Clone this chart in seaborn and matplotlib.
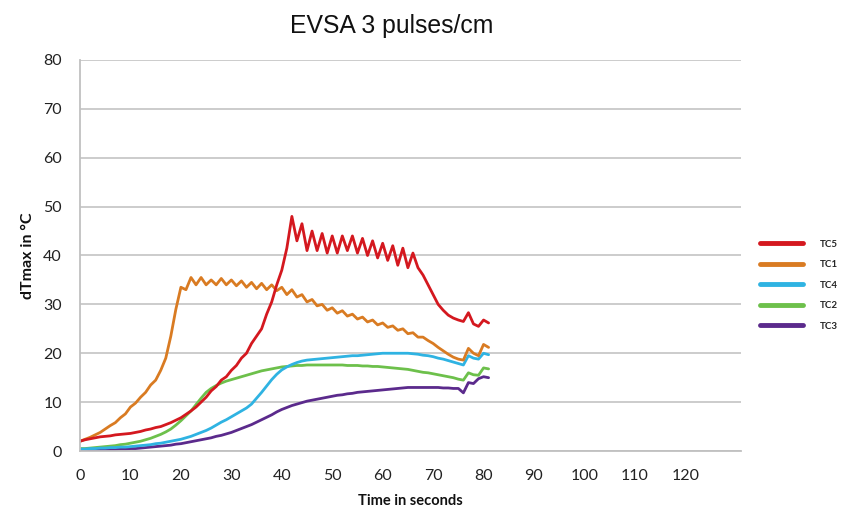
import numpy as np
import pandas as pd
import matplotlib
matplotlib.use("Agg")
import matplotlib.pyplot as plt
import seaborn as sns
from matplotlib.lines import Line2D

# ---- data (1 s sampling, t = 0 .. 81 s) ----
time_s = list(range(0, 82))

tc5 = [2.0, 2.3, 2.5, 2.7, 2.9, 3.0, 3.1, 3.3, 3.4, 3.5,
       3.6, 3.8, 4.0, 4.3, 4.5, 4.8, 5.0, 5.4, 5.8, 6.3,
       6.8, 7.5, 8.2, 9.0, 10.0, 11.0, 12.3, 13.2, 14.5, 15.2,
       16.5, 17.5, 19.0, 20.0, 22.0, 23.5, 25.0, 28.0, 30.5, 34.0,
       37.0, 41.5, 48.0, 43.0, 46.5, 41.0, 45.0, 41.0, 44.5, 40.5,
       44.0, 40.5, 44.0, 41.0, 44.0, 40.5, 43.5, 40.0, 43.0, 39.5,
       42.5, 39.0, 42.0, 38.0, 41.5, 37.5, 40.5, 37.5, 36.0, 34.0,
       32.0, 30.0, 28.8, 27.8, 27.2, 26.8, 26.5, 28.3, 26.0, 25.5,
       26.8, 26.2]

tc1 = [2.0, 2.4, 2.8, 3.3, 3.8, 4.5, 5.2, 5.8, 6.8, 7.6,
       9.0, 9.8, 11.0, 12.0, 13.5, 14.5, 16.5, 19.0, 23.5, 29.0,
       33.5, 33.0, 35.5, 34.0, 35.5, 34.0, 35.0, 34.0, 35.3, 34.0,
       35.0, 33.8, 34.8, 33.5, 34.5, 33.2, 34.3, 33.0, 34.0, 32.8,
       33.5, 32.0, 33.0, 31.5, 32.0, 30.5, 31.0, 29.7, 30.0, 28.8,
       29.3, 28.2, 28.7, 27.6, 28.0, 27.0, 27.4, 26.4, 26.8, 25.8,
       26.2, 25.3, 25.6, 24.7, 25.0, 24.0, 24.2, 23.3, 23.3, 22.6,
       22.0, 21.2, 20.5, 19.8, 19.2, 18.8, 18.6, 21.0, 20.0, 19.5,
       21.8, 21.2]

tc4 = [0.4, 0.4, 0.5, 0.5, 0.6, 0.6, 0.7, 0.7, 0.8, 0.8,
       0.9, 1.0, 1.1, 1.2, 1.3, 1.5, 1.6, 1.8, 2.0, 2.2,
       2.4, 2.7, 3.0, 3.4, 3.8, 4.2, 4.7, 5.3, 5.9, 6.4,
       7.0, 7.6, 8.2, 8.8, 9.6, 10.8, 12.0, 13.3, 14.6, 15.7,
       16.6, 17.2, 17.7, 18.1, 18.4, 18.6, 18.7, 18.8, 18.9, 19.0,
       19.1, 19.2, 19.3, 19.4, 19.5, 19.5, 19.6, 19.7, 19.8, 19.9,
       20.0, 20.0, 20.0, 20.0, 20.0, 20.0, 19.9, 19.8, 19.6, 19.5,
       19.3, 19.0, 18.8, 18.5, 18.2, 17.9, 17.6, 19.5, 19.0, 18.8,
       20.0, 19.7]

tc2 = [0.5, 0.5, 0.6, 0.7, 0.8, 0.9, 1.0, 1.1, 1.3, 1.4,
       1.6, 1.8, 2.0, 2.3, 2.6, 3.0, 3.4, 3.9, 4.5, 5.3,
       6.2, 7.2, 8.2, 9.5, 10.8, 12.0, 12.8, 13.4, 13.9, 14.3,
       14.6, 14.9, 15.2, 15.5, 15.8, 16.1, 16.4, 16.6, 16.8, 17.0,
       17.2, 17.3, 17.4, 17.5, 17.5, 17.6, 17.6, 17.6, 17.6, 17.6,
       17.6, 17.6, 17.6, 17.5, 17.5, 17.5, 17.4, 17.4, 17.3, 17.3,
       17.2, 17.1, 17.0, 16.9, 16.8, 16.7, 16.5, 16.3, 16.1, 16.0,
       15.8, 15.6, 15.4, 15.2, 15.0, 14.7, 14.5, 16.0, 15.6, 15.5,
       17.0, 16.8]

tc3 = [0.1, 0.1, 0.1, 0.2, 0.2, 0.2, 0.3, 0.3, 0.4, 0.4,
       0.5, 0.5, 0.6, 0.7, 0.8, 0.9, 1.0, 1.1, 1.2, 1.4,
       1.5, 1.7, 1.9, 2.1, 2.3, 2.5, 2.7, 3.0, 3.2, 3.5,
       3.8, 4.2, 4.6, 5.0, 5.4, 5.9, 6.4, 6.9, 7.4, 8.0,
       8.5, 8.9, 9.3, 9.6, 9.9, 10.2, 10.4, 10.6, 10.8, 11.0,
       11.2, 11.4, 11.5, 11.7, 11.8, 12.0, 12.1, 12.2, 12.3, 12.4,
       12.5, 12.6, 12.7, 12.8, 12.9, 13.0, 13.0, 13.0, 13.0, 13.0,
       13.0, 13.0, 12.9, 12.9, 12.8, 12.8, 11.9, 14.0, 13.8, 14.8,
       15.2, 15.0]

series_names = ["TC5", "TC1", "TC4", "TC2", "TC3"]
series_values = [tc5, tc1, tc4, tc2, tc3]
series_colors = ["#d4181f", "#d97b22", "#2fb3e2", "#6dc04b", "#5b2a8c"]

x_ticks = list(range(0, 121, 10))
y_ticks = list(range(0, 81, 10))

df = pd.concat(
    [pd.DataFrame({"t": time_s, "v": vals, "s": name})
     for name, vals in zip(series_names, series_values)],
    ignore_index=True)

# ---- figure ----
sns.set_style("white")
plt.rcParams["font.family"] = ["Lato", "DejaVu Sans"]

fig = plt.figure(figsize=(8.45, 5.11), dpi=100)
ax = fig.add_axes([0.0947, 0.1174, 0.782, 0.7652])

palette = dict(zip(series_names, series_colors))
# draw in an order so red is on top
for name in ["TC3", "TC2", "TC4", "TC1", "TC5"]:
    sns.lineplot(data=df[df["s"] == name], x="t", y="v", color=palette[name],
                 lw=2.0, ax=ax, sort=False, estimator=None, legend=False)

ax.set_xlim(0, 131)
ax.set_ylim(0, 80)
ax.set_xticks(x_ticks)
ax.set_yticks(y_ticks)
ax.tick_params(axis="both", labelsize=11.5, colors="#222222", length=7,
               width=1.0, pad=6)
ax.tick_params(axis="x", color="#c0c0c0")
ax.tick_params(axis="y", color="#c0c0c0")
ax.yaxis.grid(True, color="#c8c8c8", lw=1.3)
ax.xaxis.grid(False)
for side in ["top", "right"]:
    ax.spines[side].set_visible(False)
for side in ["left", "bottom"]:
    ax.spines[side].set_color("#c0c0c0")
    ax.spines[side].set_linewidth(1.3)
ax.set_axisbelow(True)

ax.set_xlabel("Time in seconds", fontsize=10.5, fontweight="bold",
              labelpad=8, color="#111111")
ax.set_ylabel("dTmax in \u00b0C", fontsize=11.5, fontweight="bold",
              labelpad=6, color="#111111")
fig.text(0.464, 0.950, "EVSA 3 pulses/cm", ha="center", va="center",
         fontsize=17.8, family=["Liberation Sans", "DejaVu Sans"],
         color="#111111")

handles = [Line2D([0], [0], color=palette[n], lw=3.5) for n in series_names]
leg = fig.legend(handles, series_names, loc="upper left",
                 bbox_to_anchor=(0.889, 0.548), frameon=False,
                 fontsize=7, handlelength=4.4, handletextpad=1.8,
                 labelspacing=1.18)
for t in leg.get_texts():
    t.set_fontweight("bold")

fig.savefig("out.png", dpi=100)
